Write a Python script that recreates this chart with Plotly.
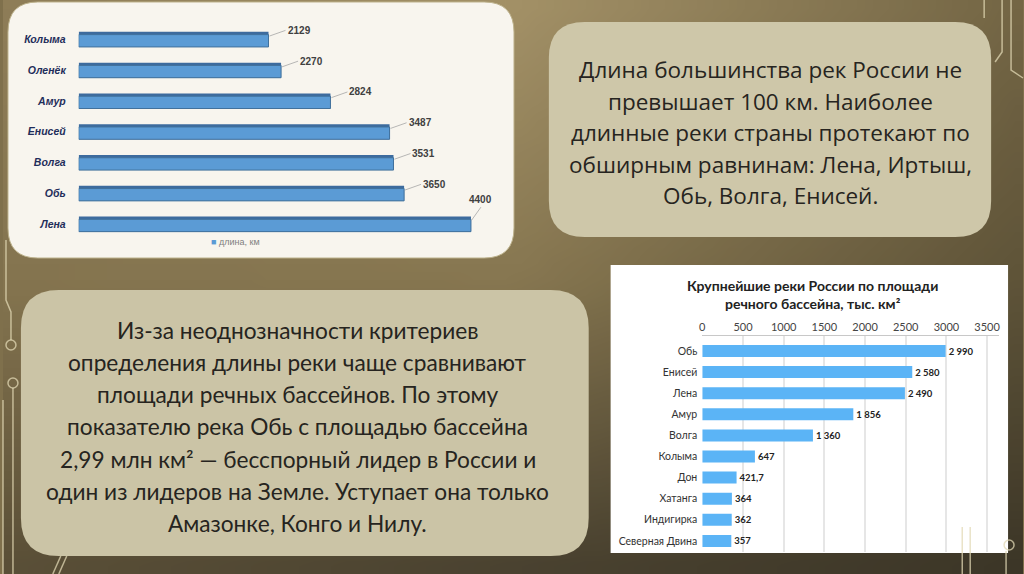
import base64
import struct
import zlib
import plotly.graph_objects as go

W, H = 1024, 574

# ---------------- data ----------------
length_rivers = ["Колыма", "Оленёк", "Амур", "Енисей", "Волга", "Обь", "Лена"]
length_km = [2129, 2270, 2824, 3487, 3531, 3650, 4400]
length_series = "длина, км"

basin_rivers = ["Обь", "Енисей", "Лена", "Амур", "Волга", "Колыма", "Дон",
                "Хатанга", "Индигирка", "Северная Двина"]
basin_area = [2990, 2580, 2490, 1856, 1360, 647, 421.7, 364, 362, 357]
basin_ticks = [0, 500, 1000, 1500, 2000, 2500, 3000, 3500]
basin_title = "Крупнейшие реки России по площади<br>речного бассейна, тыс. км²"

text_top = [
    "Длина большинства рек России не",
    "превышает 100 км. Наиболее",
    "длинные реки страны протекают по",
    "обширным равнинам: Лена, Иртыш,",
    "Обь, Волга, Енисей.",
]
text_bottom = [
    "Из-за неоднозначности критериев",
    "определения длины реки чаще сравнивают",
    "площади речных бассейнов. По этому",
    "показателю река Обь с площадью бассейна",
    "2,99 млн км² — бесспорный лидер в России и",
    "один из лидеров на Земле. Уступает она только",
    "Амазонке, Конго и Нилу.",
]


# ---------------- helpers ----------------
def px(x):
    return x / W


def py(y):
    return 1 - y / H


def rounded_path(x0, y0, x1, y1, r):
    pts = [
        f"M {px(x0 + r)} {py(y0)}",
        f"L {px(x1 - r)} {py(y0)}",
        f"Q {px(x1)} {py(y0)} {px(x1)} {py(y0 + r)}",
        f"L {px(x1)} {py(y1 - r)}",
        f"Q {px(x1)} {py(y1)} {px(x1 - r)} {py(y1)}",
        f"L {px(x0 + r)} {py(y1)}",
        f"Q {px(x0)} {py(y1)} {px(x0)} {py(y1 - r)}",
        f"L {px(x0)} {py(y0 + r)}",
        f"Q {px(x0)} {py(y0)} {px(x0 + r)} {py(y0)}",
        "Z",
    ]
    return " ".join(pts)


def ru_num(v):
    if float(v).is_integer():
        return f"{int(v):,}".replace(",", " ")
    return f"{v}".replace(".", ",")


def gradient_uri(w, h):
    grid = [
        [(0x8E, 0x7D, 0x57), (0xA3, 0x91, 0x67), (0x74, 0x66, 0x45)],
        [(0x84, 0x74, 0x4F), (0x86, 0x76, 0x50), (0x5E, 0x53, 0x38)],
        [(0x5A, 0x4F, 0x37), (0x4A, 0x42, 0x30), (0x3C, 0x36, 0x27)],
    ]

    def lerp(a, b, t):
        return tuple(a[i] + (b[i] - a[i]) * t for i in range(3))

    rows = []
    for j in range(h):
        fy = j / (h - 1) * 2
        r0 = min(int(fy), 1)
        ty = fy - r0
        row = bytearray([0])
        for i in range(w):
            fx = i / (w - 1) * 2
            c0 = min(int(fx), 1)
            tx = fx - c0
            top = lerp(grid[r0][c0], grid[r0][c0 + 1], tx)
            bot = lerp(grid[r0 + 1][c0], grid[r0 + 1][c0 + 1], tx)
            c = lerp(top, bot, ty)
            row.extend(int(round(v)) for v in c)
        rows.append(bytes(row))
    raw = b"".join(rows)

    def chunk(tag, data):
        return (struct.pack(">I", len(data)) + tag + data
                + struct.pack(">I", zlib.crc32(tag + data) & 0xFFFFFFFF))

    png = (b"\x89PNG\r\n\x1a\n"
           + chunk(b"IHDR", struct.pack(">IIBBBBB", w, h, 8, 2, 0, 0, 0))
           + chunk(b"IDAT", zlib.compress(raw, 9))
           + chunk(b"IEND", b""))
    return "data:image/png;base64," + base64.b64encode(png).decode()


fig = go.Figure()

# ---------------- left chart: river length ----------------
L_X0, L_X1 = 76, 500
L_SCALE = 0.0895          # px per km
L_Y0, L_Y1 = 24, 239.5

fig.add_trace(go.Bar(
    x=length_km, y=length_rivers, orientation="h",
    width=0.49, offset=-0.245,
    marker=dict(color="#3D6B9E", line=dict(width=0)),
    hoverinfo="skip", showlegend=False, xaxis="x", yaxis="y",
))
fig.add_trace(go.Bar(
    x=length_km, y=length_rivers, orientation="h",
    width=0.40, offset=-0.155, name=length_series,
    marker=dict(color="#5B9BD5", line=dict(width=1, color="#41719C")),
    showlegend=False, xaxis="x", yaxis="y",
))

# ---------------- right chart: basin area ----------------
R_X0, R_X1 = 702, 1000
R_SCALE = 0.08171
R_Y0, R_Y1 = 336, 551.6
R_STEP = 21.1
R_C0 = 351

fig.add_trace(go.Bar(
    x=basin_area, y=basin_rivers, orientation="h",
    width=0.57,
    marker=dict(color="#5BB4F6", line=dict(width=0)),
    text=[ru_num(v) for v in basin_area], textposition="outside",
    textfont=dict(family="Lato", size=9.5, color="#222222", weight="bold"),
    cliponaxis=False, showlegend=False, xaxis="x2", yaxis="y2",
))

shapes = [
    # top-left chart panel
    dict(type="path", path=rounded_path(5, 2, 513, 258, 30), xref="paper", yref="paper",
         fillcolor="#F8F5EE", line=dict(color="#BDB28C", width=1), layer="below"),
    # top-right text panel
    dict(type="path", path=rounded_path(548, 22, 992, 237, 36), xref="paper", yref="paper",
         fillcolor="#CEC7A9", line=dict(color="rgba(0,0,0,0)", width=0), layer="below"),
    # bottom-left text panel
    dict(type="path", path=rounded_path(18, 290, 588, 556, 38), xref="paper", yref="paper",
         fillcolor="#CBC4A6", line=dict(color="rgba(0,0,0,0)", width=0), layer="below"),
    # bottom-right chart panel
    dict(type="rect", x0=px(610), x1=px(1009), y0=py(553), y1=py(265), xref="paper", yref="paper",
         fillcolor="#FFFFFF", line=dict(width=0), layer="below"),
]

deco = "rgba(226,216,180,0.75)"
deco_lines = [
    [(3, 240), (3, 300), (8, 312), (8, 340)],
    [(10, 388), (10, 574)],
    [(0, 400), (0, 574)],
    [(58, 556), (50, 574)],
    [(64, 556), (56, 574)],
    [(1003, 0), (1003, 52), (996, 62)],
    [(1012, 0), (1012, 70), (1024, 78)],
    [(985, 0), (985, 18)],
    [(963, 527), (963, 574)],
    [(971, 527), (971, 574)],
    [(1007, 551), (1007, 574)],
]
for seg in deco_lines:
    path = "M " + " L ".join(f"{px(x)} {py(y)}" for x, y in seg)
    shapes.append(dict(type="path", path=path, xref="paper", yref="paper",
                       line=dict(color=deco, width=1.5), layer="below"))
for cx, cy in [(8, 345), (10, 383), (1010, 545)]:
    shapes.append(dict(type="circle", xref="paper", yref="paper",
                       x0=px(cx - 5), x1=px(cx + 5), y0=py(cy + 5), y1=py(cy - 5),
                       line=dict(color=deco, width=1.5), fillcolor="rgba(0,0,0,0)", layer="below"))

annotations = []
# value labels with leader lines (left chart)
for name, v in zip(length_rivers, length_km):
    if name == "Лена":
        ax, ay, xa, ya = 10, -14, "center", "bottom"
    else:
        ax, ay, xa, ya = 17, -6, "left", "middle"
    annotations.append(dict(
        x=v, y=name, xref="x", yref="y", text=str(v), showarrow=True,
        arrowhead=0, arrowwidth=0.8, arrowcolor="#A6A6A6", ax=ax, ay=ay,
        xanchor=xa, yanchor=ya, yshift=3, standoff=1,
        font=dict(family="Liberation Sans", size=10, color="#404040", weight="bold"),
    ))
# legend of left chart
annotations.append(dict(
    x=px(207), y=py(242), xref="paper", yref="paper", xanchor="left", yanchor="middle",
    text=f"<span style='color:#5B9BD5'>■</span> {length_series}", showarrow=False,
    font=dict(family="Liberation Sans", size=9, color="#7F7F7F"),
))
# right chart title
annotations.append(dict(
    x=px(813), y=py(294), xref="paper", yref="paper", xanchor="center", yanchor="middle",
    text=f"<b>{basin_title}</b>", showarrow=False,
    font=dict(family="Lato", size=14, color="#222222"),
))
# text panels
for i, line in enumerate(text_top):
    annotations.append(dict(
        x=px(771), y=py(69.5 + 31.5 * i), xref="paper", yref="paper",
        xanchor="center", yanchor="middle", text=line, showarrow=False,
        font=dict(family="Open Sans", size=22.5, color="#262420"),
    ))
for i, line in enumerate(text_bottom):
    annotations.append(dict(
        x=px(296), y=py(330 + 32.3 * i), xref="paper", yref="paper",
        xanchor="center", yanchor="middle", text=line, showarrow=False,
        font=dict(family="Lato", size=22.7, color="#262420"),
    ))

fig.update_layout(
    width=W, height=H,
    margin=dict(l=0, r=0, t=0, b=0),
    paper_bgcolor="#7F704C",
    plot_bgcolor="rgba(0,0,0,0)",
    barmode="overlay",
    showlegend=False,
    images=[dict(source=gradient_uri(64, 36), xref="paper", yref="paper",
                 x=0, y=1, sizex=1, sizey=1, sizing="stretch", layer="below",
                 xanchor="left", yanchor="top")],
    shapes=shapes,
    annotations=annotations,
    xaxis=dict(domain=[px(L_X0), px(L_X1)], range=[0, (L_X1 - L_X0) / L_SCALE],
               visible=False, fixedrange=True, anchor="y"),
    yaxis=dict(domain=[py(L_Y1), py(L_Y0)], range=[len(length_rivers) - 0.5, -0.5],
               type="category", showgrid=False, showline=False, zeroline=False,
               ticks="", ticklabelstandoff=12, anchor="x",
               tickfont=dict(family="Liberation Sans", size=10.5, color="#1F2D5A",
                             weight="bold", style="italic")),
    xaxis2=dict(domain=[px(R_X0), px(R_X1)], range=[0, (R_X1 - R_X0) / R_SCALE],
                side="top", tickvals=basin_ticks, ticktext=[str(t) for t in basin_ticks],
                showgrid=True, gridcolor="#E6E6E6", gridwidth=1.5, zeroline=False,
                showline=True, linecolor="#C8C8C8", linewidth=1, ticks="",
                tickfont=dict(family="Lato", size=11, color="#444444"), anchor="y2"),
    yaxis2=dict(domain=[py(R_Y1), py(R_Y0)],
                range=[len(basin_rivers) - 1 + (R_Y1 - (R_C0 + 9 * R_STEP)) / R_STEP,
                       -(R_C0 - R_Y0) / R_STEP],
                type="category", showgrid=False, showline=False, zeroline=False,
                ticks="", ticklabelstandoff=4, anchor="x2",
                tickfont=dict(family="Lato", size=10.5, color="#333333")),
)

fig.write_html(
    "out.html",
    config={"displayModeBar": False},
    post_script="document.body.style.margin='0';document.body.style.overflow='hidden';",
)
